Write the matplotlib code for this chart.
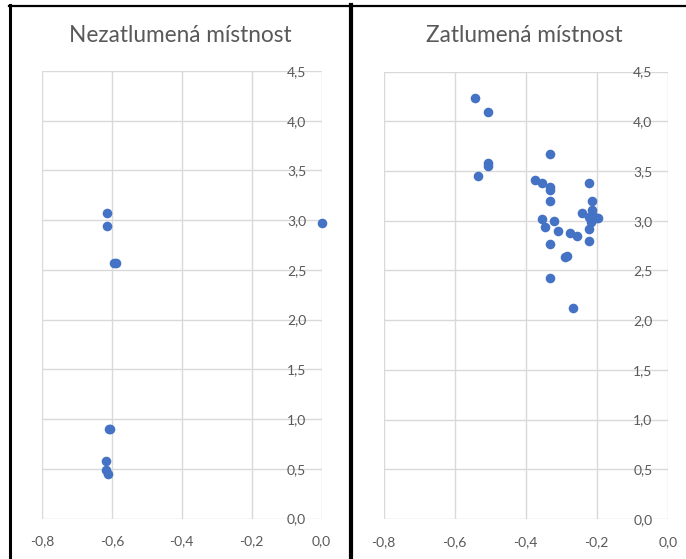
import matplotlib.pyplot as plt
from matplotlib.lines import Line2D

# data
nez_x = [-0.613, -0.613, -0.593, -0.589, 0.0, -0.607, -0.604, -0.617, -0.617, -0.612]
nez_y = [3.075, 2.945, 2.565, 2.565, 2.97, 0.90, 0.90, 0.575, 0.485, 0.45]

zat_x = [-0.542, -0.506, -0.506, -0.506, -0.533, -0.331, -0.375, -0.354, -0.331, -0.331,
         -0.331, -0.355, -0.347, -0.320, -0.308, -0.276, -0.256, -0.331, -0.290, -0.284,
         -0.331, -0.268, -0.221, -0.214, -0.214, -0.241, -0.222, -0.196, -0.215, -0.221,
         -0.221, -0.210, -0.203]
zat_y = [4.23, 4.088, 3.584, 3.55, 3.446, 3.672, 3.405, 3.378, 3.335, 3.305,
         3.193, 3.014, 2.936, 2.993, 2.899, 2.875, 2.841, 2.764, 2.635, 2.640,
         2.422, 2.125, 3.378, 3.193, 3.111, 3.078, 3.037, 3.030, 2.986, 2.912,
         2.794, 3.05, 3.03]

titles = ['Nezatlumená místnost', 'Zatlumená místnost']
x_ticks = [-0.8, -0.6, -0.4, -0.2, 0.0]
y_ticks = [0.0, 0.5, 1.0, 1.5, 2.0, 2.5, 3.0, 3.5, 4.0, 4.5]

plt.rcParams['font.family'] = ['Lato', 'DejaVu Sans']
W, H = 686, 559
fig = plt.figure(figsize=(W / 100, H / 100), dpi=100)

def px(l, t, r, b):
    return [l / W, 1 - b / H, (r - l) / W, (b - t) / H]

def comma(v):
    return f'{v:.1f}'.replace('.', ',')

panels = [
    (px(42, 71, 321.5, 518.5), nez_x, nez_y, titles[0], 180.5),
    (px(383.7, 71.5, 667.7, 519), zat_x, zat_y, titles[1], 524.7),
]

for rect, xs, ys, title, tx in panels:
    ax = fig.add_axes(rect)
    ax.set_xlim(-0.8, 0)
    ax.set_ylim(0, 4.5)
    ax.set_xticks(x_ticks)
    ax.set_yticks(y_ticks)
    ax.set_xticklabels([comma(v) for v in x_ticks])
    ax.set_yticklabels([comma(v) for v in y_ticks])
    ax.spines['left'].set_position(('data', 0))
    for s in ax.spines.values():
        s.set_visible(False)
    ax.tick_params(axis='x', length=0, pad=12, labelsize=10, labelcolor='#595959')
    ax.tick_params(axis='y', length=0, pad=11, labelsize=10, labelcolor='#595959')
    ax.grid(True, color='#d9d9d9', linewidth=1)
    ax.set_axisbelow(True)
    ax.scatter(xs, ys, s=48, color='#4472c4', zorder=3, clip_on=False, linewidths=0)
    fig.text(tx / W, 1 - 35 / H, title, ha='center', va='center', fontsize=16.3, color='#595959')

# chart borders
k = dict(color='black', transform=fig.transFigure)
fig.add_artist(Line2D([9.5 / W, 9.5 / W], [0, 1 - 5 / H], linewidth=2.2, **k))
fig.add_artist(Line2D([8.5 / W, 1], [1 - 6 / H, 1 - 6 / H], linewidth=1.6, **k))
fig.add_artist(Line2D([351.3 / W, 351.3 / W], [0, 1 - 5 / H], linewidth=3, **k))

fig.savefig('out.png', dpi=100)
